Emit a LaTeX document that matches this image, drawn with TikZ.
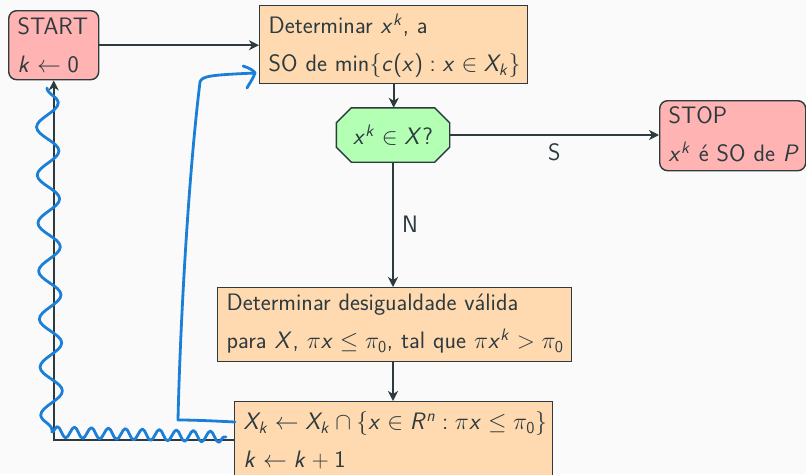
\RequirePackage{fix-cm}
\documentclass[tikz,border=0pt]{standalone}
\usepackage{amsmath}
\usetikzlibrary{arrows.meta,calc,decorations.pathmorphing}
\renewcommand{\familydefault}{\sfdefault}
\DeclareSymbolFont{sfslanted}{OT1}{cmss}{m}{sl}
\SetSymbolFont{operators}{normal}{OT1}{cmss}{m}{n}
\DeclareMathSymbol{x}{\mathalpha}{sfslanted}{`x}
\DeclareMathSymbol{k}{\mathalpha}{sfslanted}{`k}
\DeclareMathSymbol{X}{\mathalpha}{sfslanted}{`X}
\DeclareMathSymbol{c}{\mathalpha}{sfslanted}{`c}
\DeclareMathSymbol{P}{\mathalpha}{sfslanted}{`P}
\DeclareMathSymbol{R}{\mathalpha}{sfslanted}{`R}
\DeclareMathSymbol{n}{\mathalpha}{sfslanted}{`n}
\definecolor{ink}{HTML}{2D3B3E}
\definecolor{bg}{HTML}{FAFAFA}
\definecolor{pinkfill}{HTML}{FFB3B3}
\definecolor{peach}{HTML}{FFD9B0}
\definecolor{mint}{HTML}{B3FFB3}
\definecolor{pen}{HTML}{1B7FD8}
\tikzset{
  box/.style={draw=ink, line width=1.4pt, inner xsep=9pt, inner ysep=0pt,
    align=left, anchor=north west, text=ink,
    font=\fontsize{23.8}{38}\selectfont},
  termbox/.style={box, fill=pinkfill, rounded corners=8pt},
  procbox/.style={box, fill=peach},
  decshape/.style={minimum width=113pt, minimum height=54pt, inner sep=0pt},
  dectext/.style={text=ink, font=\fontsize{23.8}{38}\selectfont, inner sep=0pt},
  lbl/.style={text=ink, font=\fontsize{23.8}{28}\selectfont, inner sep=8pt},
  conn/.style={draw=ink, line width=2pt, -{Stealth[length=10pt,width=10pt,inset=3pt]}},
  pen/.style={draw=pen, line width=2.8pt, line cap=round, line join=round}
}
\begin{document}
\begin{tikzpicture}[x=1pt,y=-1pt]
\useasboundingbox (0,0) rectangle (806,474);
\fill[bg] (0,0) rectangle (806,474);
% nodes
\node[termbox, text width=72pt, text height=24pt, text depth=45pt] (start) at (8,10)
  {\mbox{START}\\\mbox{$k \leftarrow 0$}};
\node[procbox, text width=250pt, text height=28pt, text depth=50pt] (box1) at (259,5)
  {\mbox{Determinar $x^k$, a}\\\mbox{SO de $\text{min}\{c(x) : x \in X_k\}$}};
\node[decshape] (dec) at (393,135) {};
\filldraw[fill=mint, draw=ink, line width=1.4pt]
  ($(dec.north west)+(15,0)$) -- ($(dec.north east)+(-15,0)$) --
  ($(dec.north east)+(0,15)$) -- ($(dec.south east)+(0,-15)$) --
  ($(dec.south east)+(-15,0)$) -- ($(dec.south west)+(15,0)$) --
  ($(dec.south west)+(0,-15)$) -- ($(dec.north west)+(0,15)$) -- cycle;
\node[dectext] (dectxt) at (dec) {$x^k \in X$?};
\node[termbox, text width=128pt, text height=23pt, text depth=47pt] (stop) at (659,100)
  {\mbox{STOP}\\\mbox{$x^k$ é SO de $P$}};
\node[procbox, text width=336pt, text height=23pt, text depth=51pt] (box2) at (217,287)
  {\mbox{Determinar desigualdade válida}\\\mbox{para $X$, $\pi x \leq \pi_0$, tal que $\pi x^k > \pi_0$}};
\node[procbox, text width=300pt, text height=28pt, text depth=48pt] (box3) at (234,401)
  {\mbox{$X_k \leftarrow X_k \cap \{x \in R^n : \pi x \leq \pi_0\}$}\\\mbox{$k \leftarrow k+1$}};
% connectors
\draw[conn] (start.east) -- (start.east -| box1.west);
\draw[conn] (box1.south) -- (box1.south |- dec.north);
\draw[conn] (dec.east) -- node[lbl, below] (slbl) {S} (dec.east -| stop.west);
\draw[conn] (dec.south) -- node[lbl, right] (nlbl) {N} (dec.south |- box2.north);
\draw[conn] (box2.south -| dec.south) -- (box3.north -| dec.south);
\draw[conn] (box3.west) -| (start.south);
% hand-drawn annotations
\coordinate (w1) at (47,88);
\coordinate (w2) at (52,432);
\coordinate (w3) at (226,437);
\draw[pen, decorate, decoration={snake, segment length=48pt, amplitude=11pt}] (w1) -- (w2);
\draw[pen, decorate, decoration={snake, segment length=17pt, amplitude=5.5pt}] (w2) -- (w3);
\coordinate (h0) at (235,422);
\coordinate (h1) at (178,420);
\coordinate (h2) at (200,82);
\coordinate (h3) at (255,73);
\draw[pen] (h0) .. controls (215,421) and (195,420) .. (h1)
  .. controls (180,330) and (188,180) .. (h2)
  .. controls (202,76) and (210,75) .. (h3);
\draw[pen] (243,66) .. controls (250,68) and (254,71) .. (h3)
  .. controls (253,79) and (249,84) .. (247,88);
\end{tikzpicture}
\end{document}
